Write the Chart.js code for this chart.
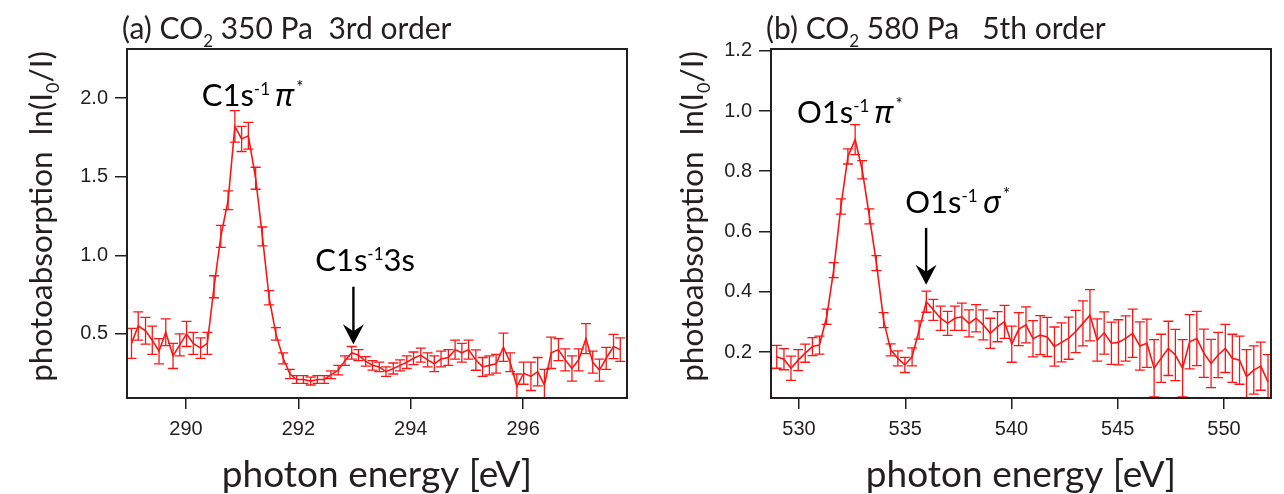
<!DOCTYPE html>
<html>
<head>
<meta charset="utf-8">
<title>CO2 photoabsorption</title>
<script src="https://cdn.jsdelivr.net/npm/chart.js@4.4.1/dist/chart.umd.min.js"></script>
<style>
  html, body { margin: 0; padding: 0; background: #fff; }
  #wrap { position: relative; width: 1284px; height: 494px; }
  .panel { position: absolute; top: 0; }
</style>
</head>
<body>
<div id="wrap">
  <canvas id="chartA" class="panel" style="left:0" width="642" height="494"></canvas>
  <canvas id="chartB" class="panel" style="left:642px" width="642" height="494"></canvas>
</div>
<script>
// (a) C K-edge, 350 Pa, 3rd order
const energyA = [
  289.03, 289.15, 289.28, 289.40, 289.52, 289.64, 289.77, 289.89, 290.01, 290.13,
  290.26, 290.38, 290.50, 290.62, 290.75, 290.87, 290.99, 291.11, 291.24, 291.36,
  291.48, 291.60, 291.73, 291.85, 291.97, 292.09, 292.22, 292.34, 292.46, 292.58,
  292.71, 292.83, 292.95, 293.07, 293.20, 293.32, 293.44, 293.56, 293.69, 293.81,
  293.93, 294.05, 294.18, 294.30, 294.42, 294.54, 294.67, 294.79, 294.91, 295.03,
  295.16, 295.28, 295.40, 295.52, 295.65, 295.77, 295.89, 296.01, 296.14, 296.26,
  296.38, 296.50, 296.63, 296.75, 296.87, 296.99, 297.12, 297.24, 297.36, 297.48,
  297.61, 297.73
];
const absA = [
  0.44, 0.55, 0.52, 0.46, 0.39, 0.51, 0.36, 0.43, 0.50, 0.44,
  0.41, 0.44, 0.80, 1.12, 1.35, 1.82, 1.74, 1.76, 1.49, 1.12,
  0.73, 0.50, 0.345, 0.245, 0.21, 0.21, 0.20, 0.21, 0.21, 0.24,
  0.27, 0.33, 0.38, 0.365, 0.325, 0.30, 0.29, 0.26, 0.28, 0.30,
  0.32, 0.345, 0.365, 0.335, 0.31, 0.34, 0.35, 0.40, 0.38, 0.40,
  0.334, 0.29, 0.30, 0.31, 0.415, 0.32, 0.165, 0.25, 0.23, 0.26,
  0.175, 0.38, 0.40, 0.335, 0.28, 0.335, 0.47, 0.32, 0.27, 0.345,
  0.42, 0.40
];
const errA = [
  0.095, 0.09, 0.085, 0.09, 0.08, 0.085, 0.08, 0.07, 0.08, 0.07,
  0.065, 0.07, 0.07, 0.07, 0.06, 0.10, 0.08, 0.085, 0.07, 0.06,
  0.045, 0.04, 0.035, 0.03, 0.025, 0.025, 0.025, 0.025, 0.025, 0.025,
  0.03, 0.03, 0.04, 0.035, 0.03, 0.03, 0.03, 0.03, 0.035, 0.035,
  0.04, 0.04, 0.045, 0.045, 0.05, 0.05, 0.05, 0.06, 0.06, 0.06,
  0.065, 0.06, 0.06, 0.06, 0.09, 0.06, 0.08, 0.07, 0.09, 0.09,
  0.10, 0.10, 0.07, 0.07, 0.08, 0.07, 0.095, 0.07, 0.07, 0.07,
  0.077, 0.075
];

// (b) O K-edge, 580 Pa, 5th order
const energyB = [
  528.95, 529.29, 529.62, 529.96, 530.29, 530.63, 530.96, 531.30, 531.63, 531.97,
  532.30, 532.64, 532.97, 533.31, 533.64, 533.98, 534.31, 534.65, 534.98, 535.32,
  535.65, 535.99, 536.32, 536.66, 536.99, 537.33, 537.66, 538.00, 538.33, 538.67,
  539.00, 539.34, 539.67, 540.01, 540.34, 540.68, 541.01, 541.35, 541.68, 542.02,
  542.35, 542.69, 543.02, 543.36, 543.69, 544.03, 544.36, 544.70, 545.03, 545.37,
  545.70, 546.04, 546.37, 546.71, 547.04, 547.38, 547.71, 548.05, 548.38, 548.72,
  549.05, 549.39, 549.72, 550.06, 550.39, 550.73, 551.06, 551.40, 551.73, 552.07
];
const absB = [
  0.184, 0.176, 0.146, 0.173, 0.196, 0.218, 0.223, 0.317, 0.472, 0.683,
  0.849, 0.905, 0.805, 0.65, 0.495, 0.306, 0.207, 0.179, 0.157, 0.184,
  0.273, 0.367, 0.34, 0.312, 0.295, 0.312, 0.317, 0.295, 0.312, 0.29,
  0.262, 0.284, 0.30, 0.226, 0.276, 0.29, 0.244, 0.256, 0.25, 0.218,
  0.232, 0.246, 0.268, 0.295, 0.322, 0.24, 0.263, 0.229, 0.232, 0.245,
  0.262, 0.22, 0.229, 0.146, 0.179, 0.212, 0.19, 0.146, 0.234, 0.245,
  0.196, 0.162, 0.19, 0.212, 0.179, 0.173, 0.118, 0.14, 0.153, 0.101
];
const errB = [
  0.038, 0.035, 0.04, 0.035, 0.03, 0.03, 0.03, 0.025, 0.025, 0.025,
  0.025, 0.05, 0.03, 0.025, 0.025, 0.025, 0.02, 0.025, 0.025, 0.03,
  0.03, 0.035, 0.035, 0.04, 0.04, 0.04, 0.045, 0.045, 0.045, 0.05,
  0.05, 0.05, 0.055, 0.06, 0.055, 0.06, 0.06, 0.065, 0.065, 0.065,
  0.065, 0.07, 0.07, 0.075, 0.085, 0.07, 0.07, 0.07, 0.075, 0.075,
  0.08, 0.08, 0.08, 0.095, 0.08, 0.09, 0.085, 0.095, 0.09, 0.09,
  0.08, 0.08, 0.075, 0.08, 0.08, 0.08, 0.09, 0.08, 0.08, 0.09
];

const xTicksA = [290, 292, 294, 296];
const yTicksA = [0.5, 1.0, 1.5, 2.0];
const xTicksB = [530, 535, 540, 545, 550];
const yTicksB = [0.2, 0.4, 0.6, 0.8, 1.0, 1.2];

const INK = '#231f20';
const RED = 'rgb(255, 20, 20)';
const FONT = 'Lato, "Noto Sans", sans-serif';
const GREEK = '"Noto Sans", "DejaVu Sans", sans-serif';

function fontOf(p, base) {
  return (p.italic ? 'italic ' : '') + (p.size || base) + 'px ' + (p.family || FONT);
}

// draws a run of text pieces (subscripts / superscripts via dy)
function drawRich(ctx, parts, x, y, base, align) {
  const widths = parts.map(p => { ctx.font = fontOf(p, base); return ctx.measureText(p.t).width + (p.gap || 0); });
  const total = widths.reduce((a, b) => a + b, 0);
  let cx = align === 'center' ? x - total / 2 : x;
  ctx.textAlign = 'left';
  ctx.textBaseline = 'alphabetic';
  parts.forEach((p, i) => {
    ctx.font = fontOf(p, base);
    ctx.fillText(p.t, cx, y + (p.dy || 0));
    cx += widths[i];
  });
}

function drawArrow(ctx, x, yTop, yTip) {
  ctx.save();
  ctx.strokeStyle = '#000';
  ctx.fillStyle = '#000';
  ctx.lineWidth = 2.4;
  ctx.beginPath();
  ctx.moveTo(x, yTop);
  ctx.lineTo(x, yTip - 12);
  ctx.stroke();
  ctx.beginPath();
  ctx.moveTo(x, yTip);
  ctx.lineTo(x - 10.5, yTip - 20);
  ctx.lineTo(x, yTip - 13);
  ctx.lineTo(x + 10.5, yTip - 20);
  ctx.closePath();
  ctx.fill();
  ctx.restore();
}

const errorBars = {
  id: 'errorBars',
  afterDatasetsDraw(chart, args, opts) {
    const { ctx, chartArea: a, scales: { x, y } } = chart;
    const pts = chart.data.datasets[0].data;
    const cap = 5;
    ctx.save();
    ctx.beginPath();
    ctx.rect(a.left, a.top, a.right - a.left, a.bottom - a.top);
    ctx.clip();
    ctx.strokeStyle = RED;
    ctx.lineWidth = 1.3;
    ctx.beginPath();
    pts.forEach((p, i) => {
      const px = x.getPixelForValue(p.x);
      const lo = y.getPixelForValue(p.y - opts.errors[i]);
      const hi = y.getPixelForValue(p.y + opts.errors[i]);
      ctx.moveTo(px, lo); ctx.lineTo(px, hi);
      ctx.moveTo(px - cap, lo); ctx.lineTo(px + cap, lo);
      ctx.moveTo(px - cap, hi); ctx.lineTo(px + cap, hi);
    });
    ctx.stroke();
    ctx.restore();
  }
};

// frame, titles and peak annotations
const decorations = {
  id: 'decorations',
  afterDraw(chart, args, o) {
    const { ctx, chartArea: a, scales: { x, y } } = chart;
    ctx.save();
    ctx.strokeStyle = INK;
    ctx.lineWidth = 2;
    ctx.strokeRect(a.left, a.top, a.right - a.left, a.bottom - a.top);
    ctx.fillStyle = INK;

    drawRich(ctx, o.title, a.left - 5, 39, 30, 'left');
    drawRich(ctx, [{ t: 'photon energy [eV]' }], (a.left + a.right) / 2, 487, 37, 'center');

    ctx.save();
    ctx.translate(a.left - o.yTitleGap, (a.top + a.bottom) / 2 - 7);
    ctx.rotate(-Math.PI / 2);
    drawRich(ctx, [
      { t: 'photoabsorption  ln(I' },
      { t: '0', size: 18, dy: 7 },
      { t: '/I)' }
    ], 0, 0, 31.5, 'center');
    ctx.restore();

    ctx.fillStyle = '#000';
    o.notes.forEach(n => {
      drawRich(ctx, n.parts, x.getPixelForValue(n.x), y.getPixelForValue(n.y), 31, 'left');
    });
    o.arrows.forEach(ar => {
      drawArrow(ctx, x.getPixelForValue(ar.x), y.getPixelForValue(ar.from), y.getPixelForValue(ar.to));
    });
    ctx.restore();
  }
};

function axisX(min, max, ticks) {
  return {
    type: 'linear', position: 'bottom', min: min, max: max,
    afterBuildTicks: s => { s.ticks = ticks.map(v => ({ value: v })); },
    afterFit: s => { s.height = 96; },
    grid: { display: true, drawOnChartArea: false, drawTicks: true, tickLength: 11, color: INK, lineWidth: 1.5 },
    border: { display: true, color: INK, width: 2 },
    ticks: { color: INK, padding: 8, maxRotation: 0, autoSkip: false,
             font: { family: 'Liberation Sans', size: 20 }, callback: v => String(v) }
  };
}

function axisY(min, max, ticks, width) {
  return {
    type: 'linear', position: 'left', min: min, max: max,
    afterBuildTicks: s => { s.ticks = ticks.map(v => ({ value: v })); },
    afterFit: s => { s.width = width; },
    grid: { display: true, drawOnChartArea: false, drawTicks: true, tickLength: 12, color: INK, lineWidth: 1.5 },
    border: { display: true, color: INK, width: 2 },
    ticks: { color: INK, padding: 7, autoSkip: false,
             font: { family: 'Liberation Sans', size: 20 }, callback: v => v.toFixed(1) }
  };
}

function series(xs, ys) {
  return {
    data: xs.map((v, i) => ({ x: v, y: ys[i] })),
    borderColor: RED,
    borderWidth: 1.6,
    pointRadius: 0,
    tension: 0
  };
}

const small = 17;

new Chart(document.getElementById('chartA'), {
  type: 'line',
  data: { datasets: [series(energyA, absA)] },
  options: {
    responsive: false,
    animation: false,
    layout: { padding: { top: 49, right: 15, left: 0, bottom: 0 } },
    scales: { x: axisX(288.95, 297.85, xTicksA), y: axisY(0.0924, 2.312, yTicksA, 127) },
    plugins: {
      legend: { display: false },
      tooltip: { enabled: false },
      errorBars: { errors: errA },
      decorations: {
        yTitleGap: 75,
        title: [{ t: '(a) CO' }, { t: '2', size: small, dy: 8 }, { t: ' 350 Pa  3rd order' }],
        notes: [
          { x: 290.28, y: 1.948, parts: [{ t: 'C1s' }, { t: '-1', size: small, dy: -11, gap: 5 },
                                        { t: 'π', italic: true, family: GREEK, gap: 3 }, { t: '*', size: small, dy: -13 }] },
          { x: 292.30, y: 0.903, parts: [{ t: 'C1s' }, { t: '-1', size: small, dy: -11 }, { t: '3s' }] }
        ],
        arrows: [{ x: 292.98, from: 0.80, to: 0.435 }]
      }
    }
  },
  plugins: [errorBars, decorations]
});

new Chart(document.getElementById('chartB'), {
  type: 'line',
  data: { datasets: [series(energyB, absB)] },
  options: {
    responsive: false,
    animation: false,
    layout: { padding: { top: 49, right: 13, left: 0, bottom: 0 } },
    scales: { x: axisX(528.68, 552.21, xTicksB), y: axisY(0.0473, 1.2058, yTicksB, 129) },
    plugins: {
      legend: { display: false },
      tooltip: { enabled: false },
      errorBars: { errors: errB },
      decorations: {
        yTitleGap: 68,
        title: [{ t: '(b) CO' }, { t: '2', size: small, dy: 8 }, { t: ' 580 Pa   5th order' }],
        notes: [
          { x: 529.90, y: 0.961, parts: [{ t: 'O1s' }, { t: '-1', size: small, dy: -11, gap: 5 },
                                        { t: 'π', italic: true, family: GREEK, gap: 3 }, { t: '*', size: small, dy: -13 }] },
          { x: 535.00, y: 0.662, parts: [{ t: 'O1s' }, { t: '-1', size: small, dy: -11, gap: 5 },
                                        { t: 'σ', italic: true, family: GREEK, gap: 3 }, { t: '*', size: small, dy: -13 }] }
        ],
        arrows: [{ x: 535.98, from: 0.612, to: 0.423 }]
      }
    }
  },
  plugins: [errorBars, decorations]
});
</script>
</body>
</html>
